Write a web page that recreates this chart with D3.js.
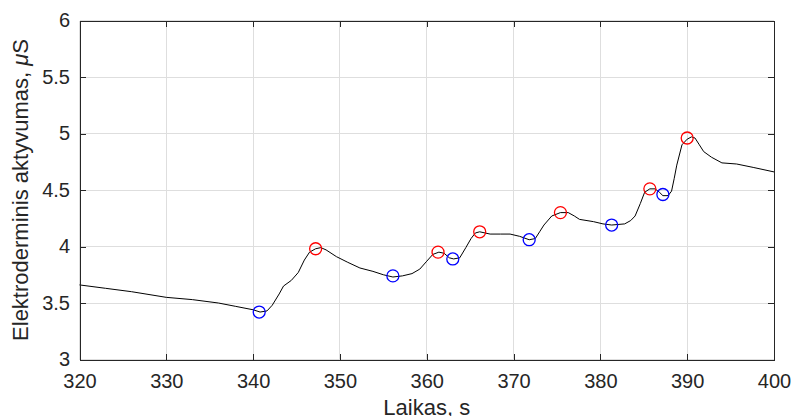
<!doctype html>
<head>
  <meta charset="utf-8">
  <title>Elektroderminis aktyvumas</title>
  <script src="https://d3js.org/d3.v7.min.js"></script>
  <style>
    body { margin: 0; background: #fff; }
    text { font-family: "Liberation Sans", Arial, sans-serif; fill: #262626; }
    .grid line { stroke: #dedede; stroke-width: 1; shape-rendering: crispEdges; }
    .axis path, .axis line { stroke: #262626; shape-rendering: crispEdges; }
  </style>
</head>
<body>
<div id="chart"></div>
<script>
// signal trace (time in s, value in uS)
var traceTime = [320, 323, 326, 330, 333, 336, 338, 340, 340.8, 341.6, 342.2, 343.0, 343.5, 344.4, 345.2, 345.9,
  346.5, 347.2, 347.8, 348.4, 349.6, 350.9, 352.3, 353.8, 355.0, 356.1, 357.2, 358.3, 359.2, 360.0, 360.7,
  361.4, 362.0, 362.6, 363.1, 363.8, 364.5, 365.1, 365.6, 366.1, 367.3, 368.5, 369.6, 370.7, 371.8, 372.5,
  373.0, 373.5, 374.4, 375.4, 376.3, 377.0, 377.6, 379.2, 380.3, 381.3, 382.8, 383.5, 384.0, 384.6, 385.1,
  385.7, 386.3, 386.8, 387.2, 387.8, 388.2, 388.5, 388.8, 389.4, 390.0, 390.5, 390.9, 391.4, 391.9, 392.8,
  394.0, 395.7, 397.6, 400];
var traceValue = [3.66, 3.63, 3.60, 3.55, 3.53, 3.50, 3.47, 3.44, 3.42, 3.43, 3.48, 3.58, 3.65, 3.70, 3.77, 3.88,
  3.95, 3.98, 3.99, 3.97, 3.91, 3.86, 3.81, 3.78, 3.75, 3.73, 3.74, 3.76, 3.80, 3.87, 3.93,
  3.95, 3.94, 3.90, 3.89, 3.90, 3.99, 4.07, 4.12, 4.13, 4.11, 4.11, 4.11, 4.09, 4.06, 4.07,
  4.13, 4.19, 4.27, 4.30, 4.30, 4.27, 4.24, 4.22, 4.20, 4.19, 4.20, 4.23, 4.27, 4.38, 4.48,
  4.51, 4.51, 4.48, 4.45, 4.45, 4.49, 4.60, 4.72, 4.90, 4.95, 4.97, 4.96, 4.90, 4.84, 4.79,
  4.74, 4.73, 4.70, 4.66];

// detected peaks (red) and troughs (blue)
var peakTime = [347.2, 361.3, 366.1, 375.4, 385.7, 390.0];
var peakValue = [3.98, 3.95, 4.13, 4.30, 4.51, 4.96];
var troughTime = [340.7, 356.1, 363.0, 371.8, 381.3, 387.2];
var troughValue = [3.42, 3.74, 3.89, 4.06, 4.19, 4.46];

// axis ticks
var xTicks = [320, 330, 340, 350, 360, 370, 380, 390, 400];
var yTicks = [3, 3.5, 4, 4.5, 5, 5.5, 6];

var W = 792, H = 416;
var pl = 79.5, pr = 774, pt = 20.5, pb = 359.5;

var svg = d3.select("#chart").append("svg")
  .attr("width", W)
  .attr("height", H);

var x = d3.scaleLinear().domain([320, 400]).range([pl, pr]);
var y = d3.scaleLinear().domain([3, 6]).range([pb, pt]);

//grid
var grid = svg.append("g").attr("class", "grid");
grid.selectAll(".gx").data(xTicks).enter().append("line")
  .attr("x1", function(d){ return x(d); }).attr("x2", function(d){ return x(d); })
  .attr("y1", pt).attr("y2", pb);
grid.selectAll(".gy").data(yTicks).enter().append("line")
  .attr("y1", function(d){ return y(d); }).attr("y2", function(d){ return y(d); })
  .attr("x1", pl).attr("x2", pr);

//trace
var trace = traceTime.map(function(t, i){ return [t, traceValue[i]]; });
svg.append("path")
  .datum(trace)
  .attr("fill", "none")
  .attr("stroke", "#000")
  .attr("stroke-width", 1)
  .attr("d", d3.line().x(function(d){ return x(d[0]); }).y(function(d){ return y(d[1]); }));

//markers
function markers(ts, vs, color) {
  svg.append("g").selectAll("circle")
    .data(ts.map(function(t, i){ return [t, vs[i]]; }))
    .enter().append("circle")
      .attr("cx", function(d){ return x(d[0]); })
      .attr("cy", function(d){ return y(d[1]); })
      .attr("r", 6)
      .attr("fill", "none")
      .attr("stroke", color)
      .attr("stroke-width", 1.3);
}
markers(peakTime, peakValue, "#ff0000");
markers(troughTime, troughValue, "#0000ff");

//axes, ticks pointing inwards
var fmt = d3.format("");
svg.append("g").attr("class", "axis")
  .attr("transform", "translate(0," + pb + ")")
  .call(d3.axisBottom(x).tickValues(xTicks).tickFormat(fmt).tickSizeInner(-6).tickSizeOuter(0).tickPadding(14.5))
  .selectAll("text").style("font-size", "20px").style("font-family", "Liberation Sans, Arial, sans-serif").attr("fill", "#262626");
svg.append("g").attr("class", "axis")
  .attr("transform", "translate(" + pl + ",0)")
  .call(d3.axisLeft(y).tickValues(yTicks).tickFormat(fmt).tickSizeInner(-6).tickSizeOuter(0).tickPadding(9.5))
  .selectAll("text").style("font-size", "20px").style("font-family", "Liberation Sans, Arial, sans-serif").attr("fill", "#262626");
svg.append("g").attr("class", "axis")
  .attr("transform", "translate(0," + pt + ")")
  .call(d3.axisTop(x).tickValues(xTicks).tickFormat("").tickSizeInner(-6).tickSizeOuter(0));
svg.append("g").attr("class", "axis")
  .attr("transform", "translate(" + pr + ",0)")
  .call(d3.axisRight(y).tickValues(yTicks).tickFormat("").tickSizeInner(-6).tickSizeOuter(0));

//axis labels
svg.append("text")
  .attr("x", (pl + pr) / 2)
  .attr("y", 415)
  .attr("text-anchor", "middle")
  .style("font-size", "22px")
  .text("Laikas, s");

var yl = svg.append("text")
  .attr("transform", "translate(28," + ((pt + pb) / 2) + ") rotate(-90)")
  .attr("text-anchor", "middle")
  .style("font-size", "22px");
yl.append("tspan").text("Elektroderminis aktyvumas, ");
yl.append("tspan").style("font-style", "italic").text("\u03bc");
yl.append("tspan").text("S");
</script>
</body>
